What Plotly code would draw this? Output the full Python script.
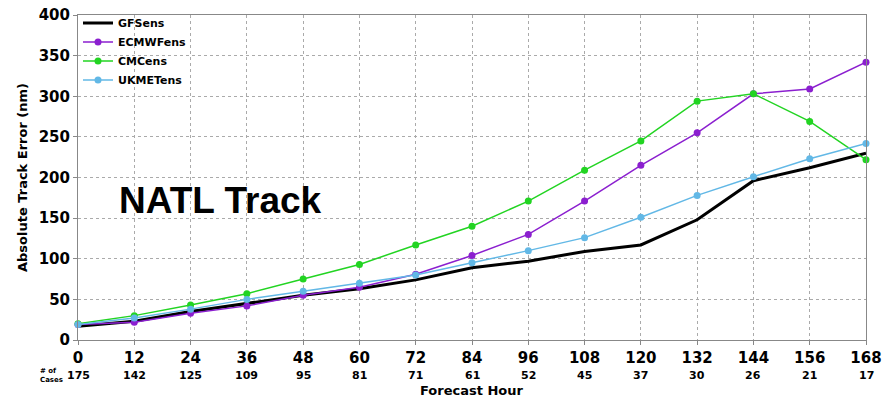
import plotly.graph_objects as go

hours = [0, 12, 24, 36, 48, 60, 72, 84, 96, 108, 120, 132, 144, 156, 168]
cases = [175, 142, 125, 109, 95, 81, 71, 61, 52, 45, 37, 30, 26, 21, 17]

gfs_ens = [17, 23, 35, 45, 55, 63, 74, 89, 97, 109, 117, 148, 196, 212, 230]
ecmwf_ens = [19, 22, 33, 42, 55, 65, 81, 104, 130, 171, 215, 255, 303, 309, 342]
cmc_ens = [20, 30, 43, 57, 75, 93, 117, 140, 171, 209, 245, 294, 303, 269, 222]
ukmet_ens = [19, 27, 38, 50, 60, 70, 80, 95, 110, 126, 151, 178, 201, 223, 242]

font_bold = "DejaVu Sans"

fig = go.Figure()
fig.add_trace(go.Scatter(x=hours, y=gfs_ens, name="<b>GFSens</b>", mode="lines",
                         line=dict(color="black", width=3), cliponaxis=False))
fig.add_trace(go.Scatter(x=hours, y=ecmwf_ens, name="<b>ECMWFens</b>", mode="lines+markers",
                         line=dict(color="#8b1fcf", width=1.5),
                         marker=dict(color="#8b1fcf", size=7), cliponaxis=False))
fig.add_trace(go.Scatter(x=hours, y=cmc_ens, name="<b>CMCens</b>", mode="lines+markers",
                         line=dict(color="#22d422", width=1.5),
                         marker=dict(color="#22d422", size=7), cliponaxis=False))
fig.add_trace(go.Scatter(x=hours, y=ukmet_ens, name="<b>UKMETens</b>", mode="lines+markers",
                         line=dict(color="#62b8e6", width=1.5),
                         marker=dict(color="#62b8e6", size=7), cliponaxis=False))

annotations = []
for h, c in zip(hours, cases):
    annotations.append(dict(x=h, y=-0.108, xref="x", yref="paper", text=f"<b>{c}</b>",
                            showarrow=False, font=dict(family=font_bold, size=11, color="black"),
                            xanchor="center", yanchor="middle"))
annotations.append(dict(x=-0.033, y=-0.108, xref="paper", yref="paper",
                        text="<b># of<br>Cases</b>", showarrow=False, align="left",
                        font=dict(family=font_bold, size=7, color="black"),
                        xanchor="center", yanchor="middle"))
annotations.append(dict(x=0.5, y=-0.155, xref="paper", yref="paper", text="<b>Forecast Hour</b>",
                        showarrow=False, font=dict(family=font_bold, size=13, color="black"),
                        xanchor="center", yanchor="middle"))
annotations.append(dict(x=0.181, y=0.43, xref="paper", yref="paper", text="<b>NATL Track</b>",
                        showarrow=False, font=dict(family="Liberation Sans", size=37, color="black"),
                        xanchor="center", yanchor="middle"))

grid = dict(showgrid=True, gridcolor="#aaaaaa", griddash="dot", gridwidth=1,
            showline=True, linecolor="#888888", linewidth=1, mirror=True,
            ticks="outside", ticklen=4, tickcolor="#888888", zeroline=False,
            automargin=False)

fig.update_layout(
    width=882, height=399,
    margin=dict(l=78, r=16, t=15, b=59, autoexpand=False),
    paper_bgcolor="white", plot_bgcolor="white",
    showlegend=True,
    legend=dict(x=0.0, y=1.02, xanchor="left", yanchor="top",
                bgcolor="rgba(255,255,255,0)", borderwidth=0,
                font=dict(family=font_bold, size=11, color="black"),
                itemwidth=30, tracegroupgap=0),
    xaxis=dict(range=[0, 168], tickvals=hours, ticktext=[f"<b>{h}</b>" for h in hours],
               tickfont=dict(family=font_bold, size=15, color="black"), **grid),
    yaxis=dict(range=[0, 400], tickvals=list(range(0, 401, 50)),
               ticktext=[f"<b>{v}</b>" for v in range(0, 401, 50)],
               tickfont=dict(family=font_bold, size=15, color="black"),
               title=dict(text="<b>Absolute Track Error (nm)</b>",
                          font=dict(family=font_bold, size=13, color="black"), standoff=8),
               **grid),
    annotations=annotations,
)

fig.write_html("out.html")
